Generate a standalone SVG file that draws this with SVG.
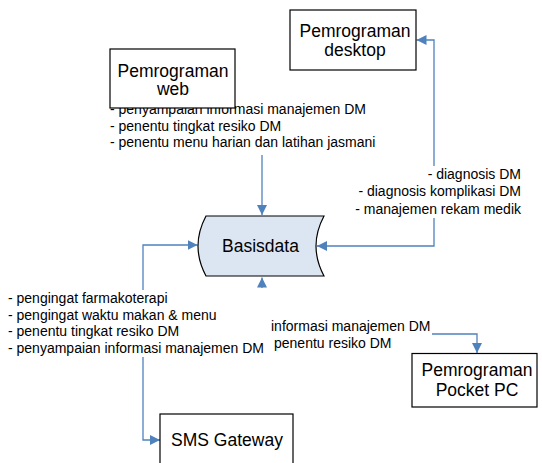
<svg xmlns="http://www.w3.org/2000/svg" width="542" height="463" viewBox="0 0 542 463">
<defs>
<style>
.box{fill:#ffffff;stroke:#000000;stroke-width:1.2}
.db{fill:#dce6f2;stroke:#000000;stroke-width:1.2}
.big{font-family:"Liberation Sans",Arial,sans-serif;font-size:17.5px;fill:#000;text-anchor:middle}
.small{font-family:"Liberation Sans",Arial,sans-serif;font-size:14px;fill:#000}
.conn{fill:none;stroke:#4f81bd;stroke-width:1.3}
</style>
<marker id="arr" markerUnits="userSpaceOnUse" markerWidth="10" markerHeight="10" viewBox="0 0 10 10" refX="10" refY="5" orient="auto">
<path d="M0,0 L10,5 L0,10 Z" fill="#4f81bd"/>
</marker>
</defs>
<rect width="542" height="463" fill="#ffffff"/>

<g id="connectors">
<path class="conn" d="M262,155 L262,215" marker-end="url(#arr)"/>
<path class="conn" d="M434,166 L434,40 L416.5,40" marker-end="url(#arr)"/>
<path class="conn" d="M434,218 L434,246 L317,246" marker-end="url(#arr)"/>
<path class="conn" d="M143,290 L143,245 L197.5,245" marker-end="url(#arr)"/>
<path class="conn" d="M262,288 L262,277.5"  marker-end="url(#arr)"/>
<path class="conn" d="M143,357 L143,440 L160,440" marker-end="url(#arr)"/>
<path class="conn" d="M432,334 L477,334 L477,353" marker-end="url(#arr)"/>
</g>

<g id="label-web">
<text class="small" x="110" y="114">- penyampaian informasi manajemen DM</text>
<text class="small" x="110" y="130.7">- penentu tingkat resiko DM</text>
<text class="small" x="110" y="147.4">- penentu menu harian dan latihan jasmani</text>
</g>

<g id="label-desktop">
<text class="small" x="521" y="178.5" text-anchor="end">- diagnosis DM</text>
<text class="small" x="521" y="196" text-anchor="end">- diagnosis komplikasi DM</text>
<text class="small" x="521" y="213.5" text-anchor="end">- manajemen rekam medik</text>
</g>

<g id="label-sms">
<text class="small" x="8" y="303">- pengingat farmakoterapi</text>
<text class="small" x="8" y="319.7">- pengingat waktu makan &amp; menu</text>
<text class="small" x="8" y="336.4">- penentu tingkat resiko DM</text>
<text class="small" x="8" y="353">- penyampaian informasi manajemen DM</text>
</g>

<g id="label-pocket">
<text class="small" x="271" y="331">informasi manajemen DM</text>
<text class="small" x="274" y="347.5">penentu resiko DM</text>
</g>

<g id="node-web">
<rect class="box" x="110" y="49" width="125" height="59"/>
<text class="big" x="173" y="76.5">Pemrograman</text>
<text class="big" x="173" y="95">web</text>
</g>

<g id="node-desktop">
<rect class="box" x="290" y="10" width="126" height="60"/>
<text class="big" x="355" y="36.5">Pemrograman</text>
<text class="big" x="355" y="56">desktop</text>
</g>

<g id="node-basisdata">
<path class="db" d="M206,216 L324,216 Q308,246 324,276 L206,276 Q190,246 206,216 Z"/>
<text class="big" x="260.5" y="251.5">Basisdata</text>
</g>

<g id="node-pocket">
<rect class="box" x="412" y="353.5" width="125" height="53.5"/>
<text class="big" x="477" y="376">Pemrograman</text>
<text class="big" x="477" y="395.5">Pocket PC</text>
</g>

<g id="node-sms">
<rect class="box" x="160" y="414" width="133" height="60"/>
<text class="big" x="227" y="446">SMS Gateway</text>
</g>
</svg>
